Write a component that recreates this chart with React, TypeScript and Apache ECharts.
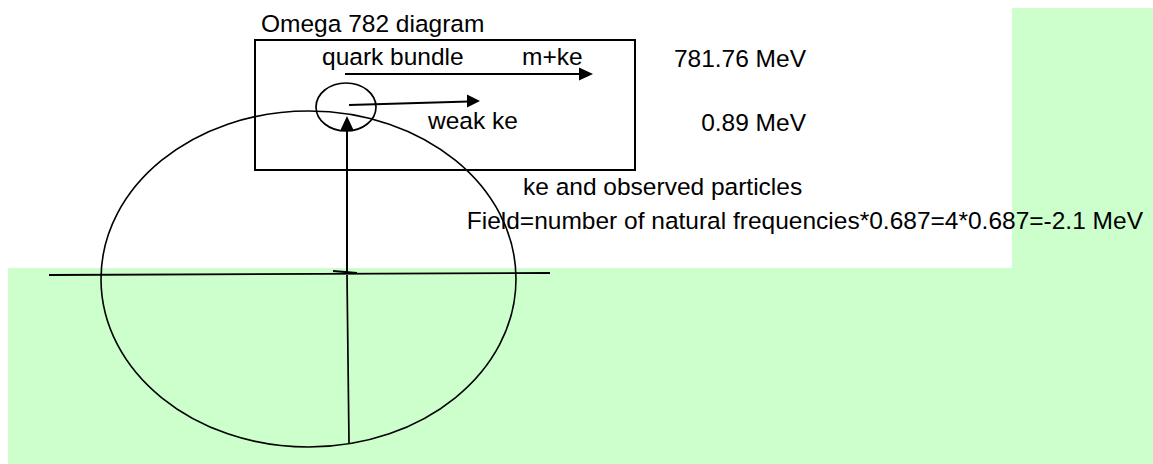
import React, { useEffect, useRef } from "react";
import * as echarts from "echarts";

// ---- diagram content ----
const TITLE = "Omega 782 diagram";
const PARTICLE_LABELS = ["quark bundle", "m+ke", "weak ke"];
const ENERGY_VALUES = [781.76, 0.89];
const ENERGY_UNIT = "MeV";
const NOTE = "ke and observed particles";
const NATURAL_FREQUENCIES = 4;
const FREQ_QUANTUM = 0.687;
const FIELD_VALUE = -2.1;

const W = 1153;
const H = 464;
const FONT = "'Liberation Sans', Arial, sans-serif";
const FS = 24.5;
const GREEN = "#CCFFCC";
const INK = "#000000";

function txt(text: string, x: number, baseline: number, align: string = "left") {
  return {
    type: "text",
    x,
    y: baseline - FS * 0.35,
    silent: true,
    z: 10,
    style: {
      text,
      fill: INK,
      fontSize: FS,
      fontFamily: FONT,
      align,
      verticalAlign: "middle",
    },
  };
}

function ln(x1: number, y1: number, x2: number, y2: number, w = 1.6) {
  return {
    type: "line",
    silent: true,
    z: 5,
    shape: { x1, y1, x2, y2 },
    style: { stroke: INK, lineWidth: w },
  };
}

function head(points: number[][]) {
  return {
    type: "polygon",
    silent: true,
    z: 6,
    shape: { points },
    style: { fill: INK },
  };
}

export default function App() {
  const ref = useRef<HTMLDivElement>(null);
  useEffect(() => {
    if (!ref.current) return;
    const chart = echarts.init(ref.current, undefined, { renderer: "svg" });
    const fieldText =
      "Field=number of natural frequencies*" +
      FREQ_QUANTUM +
      "=" +
      NATURAL_FREQUENCIES +
      "*" +
      FREQ_QUANTUM +
      "=" +
      FIELD_VALUE +
      " " +
      ENERGY_UNIT;
    const elements: any[] = [
      // green background region
      {
        type: "polygon",
        silent: true,
        z: 0,
        shape: {
          points: [
            [8, 268],
            [1012, 268],
            [1012, 8],
            [W, 8],
            [W, H],
            [8, H],
          ],
        },
        style: { fill: GREEN },
      },
      // big ellipse
      {
        type: "ellipse",
        silent: true,
        z: 4,
        shape: { cx: 308.5, cy: 279, rx: 207.5, ry: 168 },
        style: { fill: "none", stroke: INK, lineWidth: 1.6 },
      },
      // box
      {
        type: "rect",
        silent: true,
        z: 4,
        shape: { x: 255, y: 40, width: 380, height: 130 },
        style: { fill: "none", stroke: INK, lineWidth: 2 },
      },
      // small circle (quark bundle)
      {
        type: "ellipse",
        silent: true,
        z: 4,
        shape: { cx: 346, cy: 107, rx: 30, ry: 24 },
        style: { fill: "none", stroke: INK, lineWidth: 1.7 },
      },
      // horizontal axis line
      ln(49, 275, 550, 273, 1.8),
      ln(333, 271, 357, 273, 1.8),
      // vertical line (upper, with arrow)
      ln(347, 272, 347, 128, 2),
      head([
        [347, 116],
        [340, 131],
        [354, 131],
      ]),
      // vertical line (lower)
      ln(347, 275, 349, 443, 1.7),
      // m+ke arrow
      ln(345, 74, 582, 74, 1.8),
      head([
        [593, 74],
        [579, 67.5],
        [579, 80.5],
      ]),
      // weak ke arrow
      ln(349, 105, 469, 101.5, 1.8),
      head([
        [480, 101],
        [467, 94.5],
        [467, 107.5],
      ]),
      // texts
      txt(TITLE, 261, 32),
      txt(PARTICLE_LABELS[0], 322, 65),
      txt(PARTICLE_LABELS[1], 522, 65),
      txt(PARTICLE_LABELS[2], 428, 129),
      txt(ENERGY_VALUES[0] + " " + ENERGY_UNIT, 806, 67, "right"),
      txt(ENERGY_VALUES[1] + " " + ENERGY_UNIT, 806, 131, "right"),
      txt(NOTE, 523, 195),
      txt(fieldText, 1143, 229, "right"),
    ];
    chart.setOption({
      animation: false,
      graphic: { elements },
    });
    return () => chart.dispose();
  }, []);
  return (
    <div
      ref={ref}
      style={{ position: "absolute", left: 0, top: 0, width: W, height: H, background: "#ffffff" }}
    />
  );
}
